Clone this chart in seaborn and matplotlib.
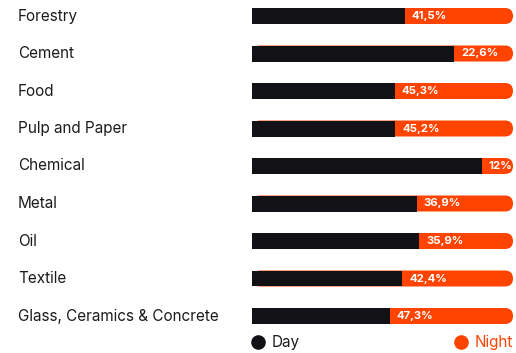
import matplotlib
matplotlib.use("Agg")
import matplotlib.pyplot as plt
import matplotlib.transforms as mtransforms
from matplotlib.patches import FancyBboxPatch
from matplotlib.lines import Line2D
import seaborn as sns
import pandas as pd

categories = ["Forestry", "Cement", "Food", "Pulp and Paper", "Chemical",
              "Metal", "Oil", "Textile", "Glass, Ceramics & Concrete"]
night = [41.5, 22.6, 45.3, 45.2, 12.0, 36.9, 35.9, 42.4, 47.3]
night_labels = ["41,5%", "22,6%", "45,3%", "45,2%", "12%", "36,9%", "35,9%", "42,4%", "47,3%"]
day = [100 - n for n in night]
series_names = ["Day", "Night"]

DARK = "#121216"
ORANGE = "#FF4300"

sns.set_theme(style="white")
plt.rcParams["font.family"] = ["Inter", "DejaVu Sans"]

df = pd.DataFrame({"category": categories, "day": day, "night": night,
                   "total": [d + n for d, n in zip(day, night)]})

W, H = 516, 353
fig = plt.figure(figsize=(W / 100, H / 100), dpi=100)
ax_top_px = 1
ax_h_px = 330
ax = fig.add_axes([252 / W, (H - ax_top_px - ax_h_px) / H, (513 - 252) / W, ax_h_px / H])

bar_h = 16 / 37.5
sns.barplot(data=df, y="category", x="total", color=ORANGE, width=bar_h,
            orient="h", ax=ax, saturation=1, linewidth=0, edgecolor="none")
n_orange = len(ax.patches)
sns.barplot(data=df, y="category", x="day", color=DARK, width=bar_h,
            orient="h", ax=ax, saturation=1, linewidth=0, edgecolor="none")

ax.set_xlim(0, 100)
ax.set_ylim(8.4, -0.4)

# round the right end of the orange bars
r_px = 8
x_per_px = 100 / 261
y_per_px = 1 / 37.5
for p in ax.patches[:n_orange]:
    x0, y0 = p.get_x(), p.get_y()
    w, h = p.get_width(), p.get_height()
    fb = FancyBboxPatch((x0, y0), w, h,
                        boxstyle=f"round,pad=0,rounding_size={r_px * x_per_px}",
                        mutation_aspect=y_per_px / x_per_px,
                        facecolor=ORANGE, edgecolor="none", linewidth=0,
                        zorder=2)
    ax.add_patch(fb)
    p.set_visible(False)
for p in ax.patches[n_orange:n_orange + len(categories)]:
    p.set_zorder(3)

# night labels
for i, (d, lab) in enumerate(zip(day, night_labels)):
    ax.text(d + 7 * x_per_px, i, lab, color="white", fontsize=8.2,
            fontweight="bold", va="center", ha="left", zorder=5)

# category labels
trans = mtransforms.blended_transform_factory(fig.transFigure, ax.transData)
for i, c in enumerate(categories):
    ax.text(18 / W, i, c, transform=trans, fontsize=11, color="#1c1c1c",
            va="center", ha="left")

ax.set_xlabel("")
ax.set_ylabel("")
ax.set_xticks([])
ax.set_yticks([])
for s in ax.spines.values():
    s.set_visible(False)

# legend
ly = 1 - 342 / H
fig.add_artist(Line2D([258 / W], [ly], marker="o", markersize=9.5, color=DARK,
                      linestyle="none", transform=fig.transFigure))
fig.text(272 / W, ly, series_names[0], fontsize=11, color="#1c1c1c",
         va="center", ha="left")
fig.add_artist(Line2D([461 / W], [ly], marker="o", markersize=9.5, color=ORANGE,
                      linestyle="none", transform=fig.transFigure))
fig.text(513 / W, ly, series_names[1], fontsize=11, color=ORANGE,
         va="center", ha="right")

fig.savefig("out.png", dpi=100)
